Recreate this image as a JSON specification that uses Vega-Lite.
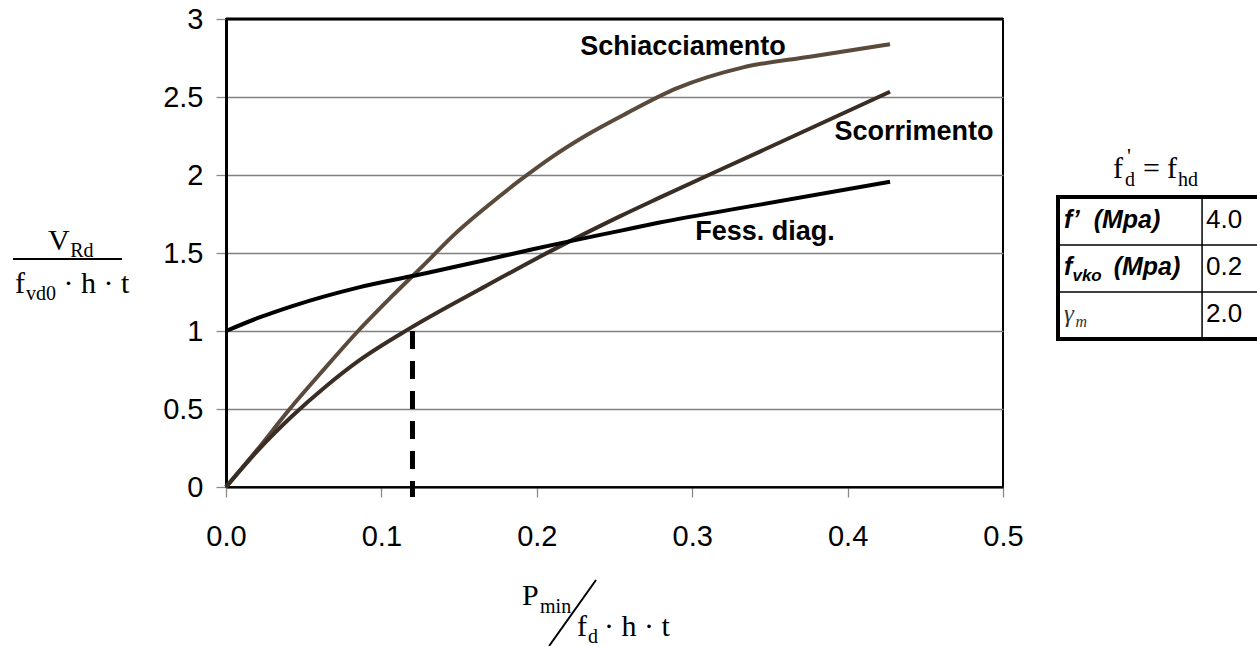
{
  "$schema": "https://vega.github.io/schema/vega-lite/v6.json",
  "width": 777,
  "height": 468,
  "autosize": {"type": "none"},
  "padding": {"left": 226, "top": 19, "right": 254, "bottom": 159},
  "background": "white",
  "config": {
    "view": {"stroke": "black", "strokeWidth": 2},
    "axis": {
      "labelFont": "Liberation Sans",
      "labelFontSize": 29,
      "labelColor": "black",
      "labelFlush": false,
      "tickColor": "#8a8a8a",
      "tickWidth": 1.3,
      "tickSize": 10,
      "domainColor": "black",
      "title": null
    }
  },
  "datasets": {
    "curves": [
      {"series": "Schiacciamento", "x": 0, "y": 0},
      {"series": "Schiacciamento", "x": 0.021, "y": 0.25},
      {"series": "Schiacciamento", "x": 0.041, "y": 0.5},
      {"series": "Schiacciamento", "x": 0.064, "y": 0.765},
      {"series": "Schiacciamento", "x": 0.085, "y": 1.0},
      {"series": "Schiacciamento", "x": 0.107, "y": 1.225},
      {"series": "Schiacciamento", "x": 0.1285, "y": 1.435},
      {"series": "Schiacciamento", "x": 0.146, "y": 1.61},
      {"series": "Schiacciamento", "x": 0.1675, "y": 1.795},
      {"series": "Schiacciamento", "x": 0.189, "y": 1.965},
      {"series": "Schiacciamento", "x": 0.2104, "y": 2.12},
      {"series": "Schiacciamento", "x": 0.2319, "y": 2.255},
      {"series": "Schiacciamento", "x": 0.2577, "y": 2.395},
      {"series": "Schiacciamento", "x": 0.2899, "y": 2.555},
      {"series": "Schiacciamento", "x": 0.3328, "y": 2.69},
      {"series": "Schiacciamento", "x": 0.3757, "y": 2.758},
      {"series": "Schiacciamento", "x": 0.4273, "y": 2.838},
      {"series": "Scorrimento", "x": 0, "y": 0},
      {"series": "Scorrimento", "x": 0.021, "y": 0.24},
      {"series": "Scorrimento", "x": 0.0426, "y": 0.455},
      {"series": "Scorrimento", "x": 0.064, "y": 0.643},
      {"series": "Scorrimento", "x": 0.0855, "y": 0.81},
      {"series": "Scorrimento", "x": 0.1188, "y": 1.02},
      {"series": "Scorrimento", "x": 0.1675, "y": 1.29},
      {"series": "Scorrimento", "x": 0.2104, "y": 1.52},
      {"series": "Scorrimento", "x": 0.2534, "y": 1.735},
      {"series": "Scorrimento", "x": 0.279, "y": 1.855},
      {"series": "Scorrimento", "x": 0.3436, "y": 2.15},
      {"series": "Scorrimento", "x": 0.4273, "y": 2.534},
      {"series": "Fess. diag.", "x": 0, "y": 1.0},
      {"series": "Fess. diag.", "x": 0.021, "y": 1.085},
      {"series": "Fess. diag.", "x": 0.0427, "y": 1.16},
      {"series": "Fess. diag.", "x": 0.0855, "y": 1.28},
      {"series": "Fess. diag.", "x": 0.1285, "y": 1.37},
      {"series": "Fess. diag.", "x": 0.189, "y": 1.505},
      {"series": "Fess. diag.", "x": 0.2148, "y": 1.562},
      {"series": "Fess. diag.", "x": 0.2534, "y": 1.642},
      {"series": "Fess. diag.", "x": 0.279, "y": 1.695},
      {"series": "Fess. diag.", "x": 0.3436, "y": 1.81},
      {"series": "Fess. diag.", "x": 0.4273, "y": 1.957}
    ]
  },
  "layer": [
    {
      "data": {"name": "curves"},
      "mark": {"type": "line", "interpolate": "monotone", "strokeCap": "butt"},
      "encoding": {
        "x": {"field": "x", "type": "quantitative",
              "scale": {"domain": [0, 0.5], "nice": false, "zero": false},
              "axis": {"values": [0, 0.1, 0.2, 0.3, 0.4, 0.5], "format": ".1f", "grid": false, "labelPadding": 25, "domainWidth": 2}},
        "y": {"field": "y", "type": "quantitative",
              "scale": {"domain": [0, 3], "nice": false},
              "axis": {"values": [0, 0.5, 1, 1.5, 2, 2.5, 3], "format": "~g", "grid": true, "gridColor": "#808080", "gridWidth": 1.3, "labelPadding": 13, "domainWidth": 3}},
        "color": {"field": "series", "type": "nominal",
                  "scale": {"domain": ["Schiacciamento", "Scorrimento", "Fess. diag."], "range": ["#5a4a3c", "#3a2e24", "#000000"]},
                  "legend": null},
        "strokeWidth": {"field": "series", "type": "nominal",
                  "scale": {"domain": ["Schiacciamento", "Scorrimento", "Fess. diag."], "range": [4, 4, 5]},
                  "legend": null}
      }
    },
    {
      "data": {"values": [{"p": 0.12, "v": 1.0}]},
      "mark": {"type": "rule", "color": "black", "strokeWidth": 5, "strokeDash": [18, 12]},
      "encoding": {
        "x": {"field": "p", "type": "quantitative"},
        "y": {"field": "v", "type": "quantitative"},
        "y2": {"datum": -0.064}
      }
    },
    {
      "data": {"values": [{}]},
      "mark": {"type": "rule", "color": "black", "strokeWidth": 3},
      "encoding": {"y": {"datum": 3}}
    },
    {
      "data": {"values": [{"label": "Schiacciamento"}]},
      "mark": {"type": "text", "font": "Liberation Sans", "fontWeight": "bold", "fontSize": 27, "align": "center", "baseline": "alphabetic", "color": "black"},
      "encoding": {"x": {"datum": 0.2941}, "y": {"datum": 2.769}, "text": {"field": "label"}}
    },
    {
      "data": {"values": [{"label": "Scorrimento"}]},
      "mark": {"type": "text", "font": "Liberation Sans", "fontWeight": "bold", "fontSize": 27, "align": "center", "baseline": "alphabetic", "color": "black"},
      "encoding": {"x": {"datum": 0.4427}, "y": {"datum": 2.224}, "text": {"field": "label"}}
    },
    {
      "data": {"values": [{"label": "Fess. diag."}]},
      "mark": {"type": "text", "font": "Liberation Sans", "fontWeight": "bold", "fontSize": 27, "align": "center", "baseline": "alphabetic", "color": "black"},
      "encoding": {"x": {"datum": 0.3468}, "y": {"datum": 1.583}, "text": {"field": "label"}}
    },
    {
      "data": {"values": [{"t": "V"}]},
      "mark": {"type": "text", "font": "Liberation Serif", "fontSize": 30, "align": "left", "baseline": "alphabetic", "color": "black"},
      "encoding": {"x": {"datum": -0.1145}, "y": {"datum": 1.52}, "text": {"field": "t"}}
    },
    {
      "data": {"values": [{"t": "Rd"}]},
      "mark": {"type": "text", "font": "Liberation Serif", "fontSize": 20, "align": "left", "baseline": "alphabetic", "color": "black"},
      "encoding": {"x": {"datum": -0.1003}, "y": {"datum": 1.475}, "text": {"field": "t"}}
    },
    {
      "data": {"values": [{}]},
      "mark": {"type": "rule", "color": "black", "strokeWidth": 2},
      "encoding": {"x": {"datum": -0.1371}, "x2": {"datum": -0.0669}, "y": {"datum": 1.4615}}
    },
    {
      "data": {"values": [{"t": "f"}]},
      "mark": {"type": "text", "font": "Liberation Serif", "fontSize": 30, "align": "left", "baseline": "alphabetic", "color": "black"},
      "encoding": {"x": {"datum": -0.1358}, "y": {"datum": 1.2436}, "text": {"field": "t"}}
    },
    {
      "data": {"values": [{"t": "vd0"}]},
      "mark": {"type": "text", "font": "Liberation Serif", "fontSize": 20, "align": "left", "baseline": "alphabetic", "color": "black"},
      "encoding": {"x": {"datum": -0.1287}, "y": {"datum": 1.1987}, "text": {"field": "t"}}
    },
    {
      "data": {"values": [{"t": "· h · t"}]},
      "mark": {"type": "text", "font": "Liberation Serif", "fontSize": 30, "align": "left", "baseline": "alphabetic", "color": "black"},
      "encoding": {"x": {"datum": -0.1045}, "y": {"datum": 1.2436}, "text": {"field": "t"}}
    },
    {
      "data": {"values": [{"t": "P"}]},
      "mark": {"type": "text", "font": "Liberation Serif", "fontSize": 30, "align": "left", "baseline": "alphabetic", "color": "black"},
      "encoding": {"x": {"datum": 0.1905}, "y": {"datum": -0.7564}, "text": {"field": "t"}}
    },
    {
      "data": {"values": [{"t": "min"}]},
      "mark": {"type": "text", "font": "Liberation Serif", "fontSize": 20, "align": "left", "baseline": "alphabetic", "color": "black"},
      "encoding": {"x": {"datum": 0.2021}, "y": {"datum": -0.8077}, "text": {"field": "t"}}
    },
    {
      "data": {"values": [{}]},
      "mark": {"type": "rule", "color": "black", "strokeWidth": 2},
      "encoding": {"x": {"datum": 0.2381}, "y": {"datum": -0.5962}, "x2": {"datum": 0.2079}, "y2": {"datum": -1.0192}}
    },
    {
      "data": {"values": [{"t": "f"}]},
      "mark": {"type": "text", "font": "Liberation Serif", "fontSize": 30, "align": "left", "baseline": "alphabetic", "color": "black"},
      "encoding": {"x": {"datum": 0.2259}, "y": {"datum": -0.9551}, "text": {"field": "t"}}
    },
    {
      "data": {"values": [{"t": "d"}]},
      "mark": {"type": "text", "font": "Liberation Serif", "fontSize": 20, "align": "left", "baseline": "alphabetic", "color": "black"},
      "encoding": {"x": {"datum": 0.2329}, "y": {"datum": -1.0}, "text": {"field": "t"}}
    },
    {
      "data": {"values": [{"t": "· h · t"}]},
      "mark": {"type": "text", "font": "Liberation Serif", "fontSize": 30, "align": "left", "baseline": "alphabetic", "color": "black"},
      "encoding": {"x": {"datum": 0.2433}, "y": {"datum": -0.9551}, "text": {"field": "t"}}
    },
    {
      "data": {"values": [{}]},
      "mark": {"type": "rect", "fill": null, "stroke": "black", "strokeWidth": 4},
      "encoding": {"x": {"datum": 0.5354}, "x2": {"datum": 0.6847}, "y": {"datum": 1.859}, "y2": {"datum": 0.9487}}
    },
    {
      "data": {"values": [{}]},
      "mark": {"type": "rule", "color": "black", "strokeWidth": 1.5},
      "encoding": {"x": {"datum": 0.5354}, "x2": {"datum": 0.6847}, "y": {"datum": 1.5513}}
    },
    {
      "data": {"values": [{}]},
      "mark": {"type": "rule", "color": "black", "strokeWidth": 1.5},
      "encoding": {"x": {"datum": 0.5354}, "x2": {"datum": 0.6847}, "y": {"datum": 1.25}}
    },
    {
      "data": {"values": [{}]},
      "mark": {"type": "rule", "color": "black", "strokeWidth": 1.5},
      "encoding": {"x": {"datum": 0.6281}, "y": {"datum": 1.859}, "y2": {"datum": 0.9487}}
    },
    {
      "data": {"values": [{"t": "f"}]},
      "mark": {"type": "text", "font": "Liberation Serif", "fontSize": 30, "align": "left", "baseline": "alphabetic", "color": "black"},
      "encoding": {"x": {"datum": 0.5708}, "y": {"datum": 1.9808}, "text": {"field": "t"}}
    },
    {
      "data": {"values": [{"t": "'"}]},
      "mark": {"type": "text", "font": "Liberation Serif", "fontSize": 22, "align": "left", "baseline": "alphabetic", "color": "black"},
      "encoding": {"x": {"datum": 0.5798}, "y": {"datum": 2.075}, "text": {"field": "t"}}
    },
    {
      "data": {"values": [{"t": "d"}]},
      "mark": {"type": "text", "font": "Liberation Serif", "fontSize": 20, "align": "left", "baseline": "alphabetic", "color": "black"},
      "encoding": {"x": {"datum": 0.5785}, "y": {"datum": 1.9295}, "text": {"field": "t"}}
    },
    {
      "data": {"values": [{"t": "="}]},
      "mark": {"type": "text", "font": "Liberation Serif", "fontSize": 30, "align": "left", "baseline": "alphabetic", "color": "black"},
      "encoding": {"x": {"datum": 0.5901}, "y": {"datum": 1.9808}, "text": {"field": "t"}}
    },
    {
      "data": {"values": [{"t": "f"}]},
      "mark": {"type": "text", "font": "Liberation Serif", "fontSize": 30, "align": "left", "baseline": "alphabetic", "color": "black"},
      "encoding": {"x": {"datum": 0.6055}, "y": {"datum": 1.9808}, "text": {"field": "t"}}
    },
    {
      "data": {"values": [{"t": "hd"}]},
      "mark": {"type": "text", "font": "Liberation Serif", "fontSize": 20, "align": "left", "baseline": "alphabetic", "color": "black"},
      "encoding": {"x": {"datum": 0.6126}, "y": {"datum": 1.9295}, "text": {"field": "t"}}
    },
    {
      "data": {"values": [{"t": "f’\u00a0\u00a0(Mpa)"}]},
      "mark": {"type": "text", "font": "Liberation Sans", "fontWeight": "bold", "fontStyle": "italic", "fontSize": 25, "align": "left", "baseline": "alphabetic", "color": "black"},
      "encoding": {"x": {"datum": 0.5393}, "y": {"datum": 1.6603}, "text": {"field": "t"}}
    },
    {
      "data": {"values": [{"t": "4.0"}]},
      "mark": {"type": "text", "font": "Liberation Sans", "fontSize": 26, "align": "left", "baseline": "alphabetic", "color": "black"},
      "encoding": {"x": {"datum": 0.6306}, "y": {"datum": 1.6603}, "text": {"field": "t"}}
    },
    {
      "data": {"values": [{"t": "f"}]},
      "mark": {"type": "text", "font": "Liberation Sans", "fontWeight": "bold", "fontStyle": "italic", "fontSize": 25, "align": "left", "baseline": "alphabetic", "color": "black"},
      "encoding": {"x": {"datum": 0.5393}, "y": {"datum": 1.359}, "text": {"field": "t"}}
    },
    {
      "data": {"values": [{"t": "vko"}]},
      "mark": {"type": "text", "font": "Liberation Sans", "fontWeight": "bold", "fontStyle": "italic", "fontSize": 17, "align": "left", "baseline": "alphabetic", "color": "black"},
      "encoding": {"x": {"datum": 0.5447}, "y": {"datum": 1.3205}, "text": {"field": "t"}}
    },
    {
      "data": {"values": [{"t": "(Mpa)"}]},
      "mark": {"type": "text", "font": "Liberation Sans", "fontWeight": "bold", "fontStyle": "italic", "fontSize": 25, "align": "left", "baseline": "alphabetic", "color": "black"},
      "encoding": {"x": {"datum": 0.5712}, "y": {"datum": 1.359}, "text": {"field": "t"}}
    },
    {
      "data": {"values": [{"t": "0.2"}]},
      "mark": {"type": "text", "font": "Liberation Sans", "fontSize": 26, "align": "left", "baseline": "alphabetic", "color": "black"},
      "encoding": {"x": {"datum": 0.6306}, "y": {"datum": 1.359}, "text": {"field": "t"}}
    },
    {
      "data": {"values": [{"t": "γ"}]},
      "mark": {"type": "text", "font": "Liberation Serif", "fontStyle": "italic", "fontSize": 25, "align": "left", "baseline": "alphabetic", "color": "#333333"},
      "encoding": {"x": {"datum": 0.5393}, "y": {"datum": 1.0577}, "text": {"field": "t"}}
    },
    {
      "data": {"values": [{"t": "m"}]},
      "mark": {"type": "text", "font": "Liberation Serif", "fontStyle": "italic", "fontSize": 16, "align": "left", "baseline": "alphabetic", "color": "#333333"},
      "encoding": {"x": {"datum": 0.5466}, "y": {"datum": 1.0256}, "text": {"field": "t"}}
    },
    {
      "data": {"values": [{"t": "2.0"}]},
      "mark": {"type": "text", "font": "Liberation Sans", "fontSize": 26, "align": "left", "baseline": "alphabetic", "color": "black"},
      "encoding": {"x": {"datum": 0.6306}, "y": {"datum": 1.0577}, "text": {"field": "t"}}
    }
  ]
}
